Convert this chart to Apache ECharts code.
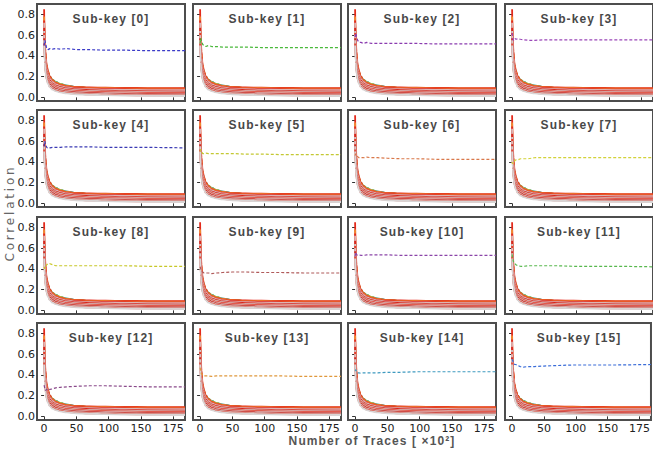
<!DOCTYPE html>
<html>
<head>
<meta charset="utf-8">
<script src="https://cdn.jsdelivr.net/npm/echarts@6/dist/echarts.min.js"></script>
<style>
  html, body { margin: 0; padding: 0; background: #fff; }
  #main { width: 653px; height: 453px; }
</style>
</head>
<body>
<div id="main"></div>
<script>
// x positions (number of traces, x10^2) where the curves are sampled
const traces = [0, 1, 2, 4, 6, 9, 13, 18, 25, 35, 50, 70, 95, 125, 160, 218]
const xTickValues = [0, 50, 100, 150, 200]
const xTickLabels = ['0', '50', '100', '150', '175']
const yTickValues = [0, 0.2, 0.4, 0.6, 0.8]
const subKeys = [0, 1, 2, 3, 4, 5, 6, 7, 8, 9, 10, 11, 12, 13, 14, 15]

// wrong key guesses (the converging band)
const wrongKeys = [
  [0.66, 0.50, 0.38, 0.29, 0.24, 0.198, 0.17, 0.148, 0.13, 0.114, 0.1, 0.09, 0.084, 0.08, 0.078, 0.076],
  [0.70, 0.52, 0.39, 0.29, 0.235, 0.195, 0.167, 0.146, 0.128, 0.112, 0.098, 0.088, 0.08, 0.075, 0.072, 0.07],
  [0.62, 0.48, 0.37, 0.28, 0.232, 0.193, 0.165, 0.144, 0.127, 0.111, 0.097, 0.09, 0.086, 0.084, 0.083, 0.083],
  [0.85, 0.60, 0.44, 0.31, 0.25, 0.20, 0.165, 0.14, 0.122, 0.108, 0.10, 0.096, 0.093, 0.091, 0.09, 0.089],
  [0.78, 0.57, 0.42, 0.30, 0.24, 0.19, 0.158, 0.135, 0.118, 0.105, 0.097, 0.092, 0.088, 0.085, 0.083, 0.082],
  [0.74, 0.55, 0.40, 0.29, 0.23, 0.183, 0.152, 0.13, 0.113, 0.1, 0.091, 0.086, 0.082, 0.079, 0.077, 0.076],
  [0.72, 0.52, 0.38, 0.27, 0.22, 0.175, 0.146, 0.125, 0.108, 0.095, 0.085, 0.079, 0.075, 0.072, 0.07, 0.069],
  [0.67, 0.48, 0.34, 0.25, 0.20, 0.16, 0.133, 0.114, 0.099, 0.087, 0.077, 0.07, 0.065, 0.061, 0.058, 0.056],
  [0.64, 0.46, 0.33, 0.24, 0.19, 0.152, 0.126, 0.106, 0.092, 0.079, 0.069, 0.063, 0.058, 0.054, 0.051, 0.049],
  [0.62, 0.44, 0.31, 0.23, 0.18, 0.143, 0.117, 0.098, 0.084, 0.072, 0.062, 0.056, 0.051, 0.047, 0.044, 0.042],
  [0.60, 0.42, 0.30, 0.22, 0.17, 0.134, 0.108, 0.09, 0.076, 0.064, 0.055, 0.049, 0.044, 0.04, 0.037, 0.035],
  [0.57, 0.40, 0.28, 0.20, 0.16, 0.124, 0.099, 0.082, 0.068, 0.057, 0.048, 0.042, 0.037, 0.033, 0.03, 0.028],
  [0.55, 0.38, 0.27, 0.19, 0.15, 0.114, 0.09, 0.074, 0.061, 0.05, 0.041, 0.035, 0.03, 0.027, 0.024, 0.022],
  [0.52, 0.36, 0.25, 0.18, 0.14, 0.104, 0.082, 0.066, 0.054, 0.043, 0.035, 0.029, 0.025, 0.021, 0.019, 0.017],
  [0.50, 0.34, 0.24, 0.17, 0.13, 0.097, 0.075, 0.06, 0.048, 0.038, 0.03, 0.025, 0.021, 0.018, 0.015, 0.013]
]

// correct key, one per sub-key panel
const correctKeys = [
  [0.50, 0.55, 0.53, 0.47, 0.46, 0.47, 0.465, 0.47, 0.465, 0.47, 0.46, 0.46, 0.455, 0.455, 0.45, 0.45],
  [0.52, 0.57, 0.55, 0.51, 0.50, 0.49, 0.50, 0.49, 0.49, 0.485, 0.485, 0.485, 0.48, 0.48, 0.48, 0.48],
  [0.58, 0.62, 0.59, 0.55, 0.53, 0.53, 0.52, 0.53, 0.52, 0.52, 0.52, 0.52, 0.52, 0.515, 0.515, 0.515],
  [0.62, 0.58, 0.55, 0.57, 0.56, 0.565, 0.56, 0.555, 0.55, 0.55, 0.555, 0.555, 0.555, 0.555, 0.555, 0.555],
  [0.55, 0.60, 0.57, 0.54, 0.53, 0.535, 0.54, 0.54, 0.54, 0.545, 0.545, 0.545, 0.54, 0.54, 0.54, 0.535],
  [0.50, 0.52, 0.50, 0.48, 0.48, 0.485, 0.48, 0.48, 0.48, 0.48, 0.48, 0.475, 0.475, 0.47, 0.47, 0.47],
  [0.46, 0.48, 0.47, 0.45, 0.44, 0.44, 0.44, 0.445, 0.44, 0.44, 0.435, 0.43, 0.43, 0.425, 0.425, 0.425],
  [0.40, 0.38, 0.39, 0.41, 0.42, 0.42, 0.43, 0.43, 0.43, 0.44, 0.44, 0.44, 0.44, 0.44, 0.44, 0.44],
  [0.42, 0.40, 0.42, 0.44, 0.45, 0.45, 0.44, 0.43, 0.43, 0.43, 0.43, 0.43, 0.43, 0.43, 0.425, 0.425],
  [0.42, 0.40, 0.38, 0.37, 0.36, 0.36, 0.36, 0.355, 0.36, 0.365, 0.37, 0.37, 0.365, 0.365, 0.36, 0.36],
  [0.52, 0.56, 0.54, 0.53, 0.535, 0.53, 0.53, 0.535, 0.535, 0.535, 0.535, 0.53, 0.53, 0.53, 0.53, 0.53],
  [0.54, 0.50, 0.47, 0.45, 0.44, 0.43, 0.425, 0.425, 0.43, 0.43, 0.43, 0.43, 0.425, 0.425, 0.425, 0.42],
  [0.30, 0.27, 0.25, 0.26, 0.25, 0.26, 0.265, 0.275, 0.28, 0.285, 0.29, 0.295, 0.295, 0.29, 0.285, 0.285],
  [0.47, 0.44, 0.41, 0.40, 0.39, 0.39, 0.39, 0.385, 0.39, 0.39, 0.39, 0.39, 0.39, 0.39, 0.385, 0.385],
  [0.44, 0.45, 0.43, 0.42, 0.42, 0.415, 0.42, 0.42, 0.42, 0.42, 0.425, 0.425, 0.43, 0.43, 0.43, 0.43],
  [0.55, 0.54, 0.52, 0.50, 0.50, 0.49, 0.48, 0.475, 0.48, 0.48, 0.485, 0.49, 0.495, 0.495, 0.495, 0.50]
]

// colored guesses are drawn first, reds and greys on top
const wrongColors = ['#5cbf3e', '#3a72d6', '#d9dc2e', '#e32a1c', '#f0882e', '#e02a20', '#dcb4b4',
  '#d8261c', '#d2c6c6', '#e53b2a', '#dcbcbc', '#cc2a22', '#d4c8c8', '#e04a3a', '#d8d4d4']
const correctColors = ['#3b3bc8', '#49b83a', '#8a3cb0', '#9a46b8', '#3a3ab4', '#c4c832', '#d9784a', '#d2d23a',
  '#c8c828', '#b05a5a', '#8b45a8', '#58b84e', '#8a4a8a', '#e0983c', '#3f9ac0', '#3a6cd8']

const colLeft = [37, 193, 348, 505]
const rowTop = [4, 110, 217, 323]
const panelW = 148
const panelH = 97
const tickFont = 'DejaVu Sans'
const titleFont = 'Liberation Sans'

const chart = echarts.init(document.getElementById('main'), null, { renderer: 'svg' })

const grid = []
const xAxis = []
const yAxis = []
const series = []
const graphic = []

subKeys.forEach((k, p) => {
  const col = p % 4
  const row = Math.floor(p / 4)
  grid.push({
    left: colLeft[col], top: rowTop[row], width: panelW, height: panelH,
    show: true, borderColor: '#4d4d4d', borderWidth: 2, backgroundColor: '#fff'
  })
  xAxis.push({
    type: 'value', gridIndex: p, min: -11, max: 218,
    axisLine: { show: false },
    splitLine: { show: false },
    axisTick: { show: true, customValues: xTickValues, length: 3, lineStyle: { color: '#333' } },
    axisLabel: {
      show: row === 3, customValues: xTickValues, margin: 3,
      fontSize: 11, fontFamily: tickFont, color: '#222',
      formatter: v => xTickLabels[xTickValues.indexOf(v)]
    }
  })
  yAxis.push({
    type: 'value', gridIndex: p, min: -0.035, max: 0.9,
    axisLine: { show: false },
    splitLine: { show: false },
    axisTick: { show: true, customValues: yTickValues, length: 3, lineStyle: { color: '#333' } },
    axisLabel: {
      show: col === 0, customValues: yTickValues, margin: 2,
      fontSize: 11, fontFamily: tickFont, color: '#222',
      formatter: v => v.toFixed(1)
    }
  })
  wrongKeys.forEach((vals, i) => {
    series.push({
      type: 'line', xAxisIndex: p, yAxisIndex: p, silent: true,
      showSymbol: false, smooth: true, smoothMonotone: 'x',
      data: traces.map((x, j) => [x, vals[j]]),
      lineStyle: { color: wrongColors[i], width: 1.8 }
    })
  })
  series.push({
    type: 'line', xAxisIndex: p, yAxisIndex: p, silent: true, showSymbol: false,
    data: traces.map((x, j) => [x, correctKeys[p][j]]),
    lineStyle: { color: correctColors[p], width: 1.2, type: [3, 2] },
    z: 5
  })
  graphic.push({
    type: 'text', x: colLeft[col] + panelW / 2, y: rowTop[row] + 15, z: 100,
    style: {
      text: 'Sub-key [' + k + ']', fill: '#484848',
      font: 'bold 12px "' + titleFont + '"',
      align: 'center', verticalAlign: 'middle', textAlign: 'center', textVerticalAlign: 'middle'
    }
  })
})

graphic.push({
  type: 'text', x: 372, y: 441, z: 100,
  style: {
    text: 'Number of Traces [ ×10²]', fill: '#555',
    font: 'bold 12px "' + titleFont + '"',
    align: 'center', verticalAlign: 'middle', textAlign: 'center', textVerticalAlign: 'middle'
  }
})
graphic.push({
  type: 'text', x: 10, y: 213, rotation: Math.PI / 2, z: 100,
  style: {
    text: 'Correlation', fill: '#666',
    font: '12px "' + tickFont + '"',
    align: 'center', verticalAlign: 'middle', textAlign: 'center', textVerticalAlign: 'middle'
  }
})

chart.setOption({
  animation: false,
  grid,
  xAxis,
  yAxis,
  series,
  graphic
})

// titles are tracked out in the original
document.querySelectorAll('#main svg text').forEach(t => {
  const s = t.textContent
  if (s === 'Correlation') t.style.letterSpacing = '2.8px'
  else if (s.indexOf('Sub-key') === 0 || s.indexOf('Number') === 0) t.style.letterSpacing = '1.1px'
})
</script>
</body>
</html>
